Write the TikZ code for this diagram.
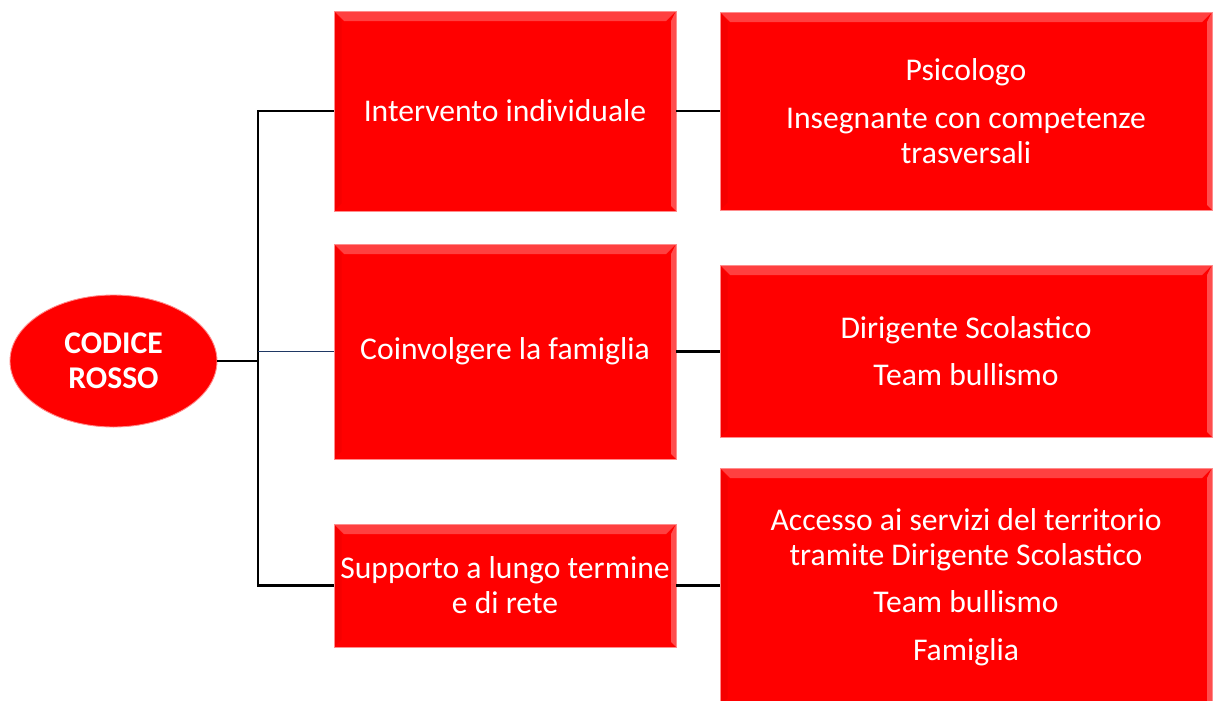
\documentclass[tikz,border=0pt]{standalone}
\usepackage{fontspec}
\setmainfont{Carlito}
\usepackage{tikz}
\usetikzlibrary{shapes.geometric}
\definecolor{rojo}{HTML}{FF0000}
\definecolor{azul}{HTML}{1F3864}
\newcommand{\bisel}{%
    \fill[white, opacity=0.25] (path picture bounding box.north west) -- (path picture bounding box.north east)
        -- ([xshift=-0.2cm,yshift=-0.2cm]path picture bounding box.north east)
        -- ([xshift=0.2cm,yshift=-0.2cm]path picture bounding box.north west) -- cycle;
    \fill[white, opacity=0.3] (path picture bounding box.north east) -- (path picture bounding box.south east)
        -- ([xshift=-0.1cm,yshift=0.1cm]path picture bounding box.south east)
        -- ([xshift=-0.1cm,yshift=-0.2cm]path picture bounding box.north east) -- cycle;
    \fill[black, opacity=0.04] (path picture bounding box.north west) -- (path picture bounding box.south west)
        -- ([xshift=0.15cm,yshift=0.15cm]path picture bounding box.south west)
        -- ([xshift=0.15cm,yshift=-0.2cm]path picture bounding box.north west) -- cycle;
}
\tikzstyle{caja}=[rectangle, fill=rojo, draw=red!45!white, line width=0.5pt, text=white, align=center,
    font=\fontsize{18}{20}\selectfont, inner sep=2pt, path picture={\bisel}]
\tikzstyle{ovalo}=[ellipse, fill=rojo, draw=red!45!white, line width=0.5pt, text=white, align=center,
    font=\fontsize{18}{20}\selectfont\bfseries, minimum width=4.14cm, minimum height=2.64cm, inner sep=0pt]
\tikzstyle{linea}=[black, line width=1.6pt]

\begin{document}
\begin{tikzpicture}
    \useasboundingbox (0,0) rectangle (24.28,-14);

    % Nodo central
    \node[ovalo] (rosso) at (2.27,-7.22) {CODICE\\ROSSO};

    % Interventi
    \node[caja, minimum width=6.84cm, minimum height=4cm] (int) at (10.1,-2.22) {Intervento individuale};
    \node[caja, minimum width=6.84cm, minimum height=4.3cm] (fam) at (10.1,-7.03) {Coinvolgere la famiglia};
    \node[caja, minimum width=6.84cm, minimum height=2.46cm] (sup) at (10.1,-11.71) {Supporto a lungo termine\\e di rete};

    % Figure coinvolte
    \node[caja, minimum width=9.84cm, minimum height=3.96cm] (psi) at (19.32,-2.22)
        {Psicologo\\[7pt]Insegnante con competenze\\trasversali};
    \node[caja, minimum width=9.84cm, minimum height=3.44cm] (dir) at (19.32,-7.02)
        {Dirigente Scolastico\\[7pt]Team bullismo};
    \node[caja, minimum width=9.84cm, minimum height=4.76cm] (ser) at (19.32,-11.74)
        {Accesso ai servizi del territorio\\tramite Dirigente Scolastico\\[7pt]Team bullismo\\[7pt]Famiglia};

    % Tronco
    \coordinate (t1) at (5.16,-2.2);
    \coordinate (t2) at (5.16,-7.22);
    \coordinate (t3) at (5.16,-11.74);
    \draw[black, line width=1.2pt] (t1) -- (t3);
    \draw[linea] (rosso.east) -- (t2);

    % Rami
    \draw[black, line width=1.2pt] (int.west) -- (int.west -| t1);
    \draw[azul, line width=1pt] (fam.west) -- (fam.west -| t1);
    \draw[black, line width=1.2pt] (sup.west) -- (sup.west -| t1);

    \draw[linea] (int.east) -- (psi.west);
    \draw[linea] (fam.east) -- (fam.east -| dir.west);
    \draw[linea] (sup.east) -- (sup.east -| ser.west);
\end{tikzpicture}
\end{document}
